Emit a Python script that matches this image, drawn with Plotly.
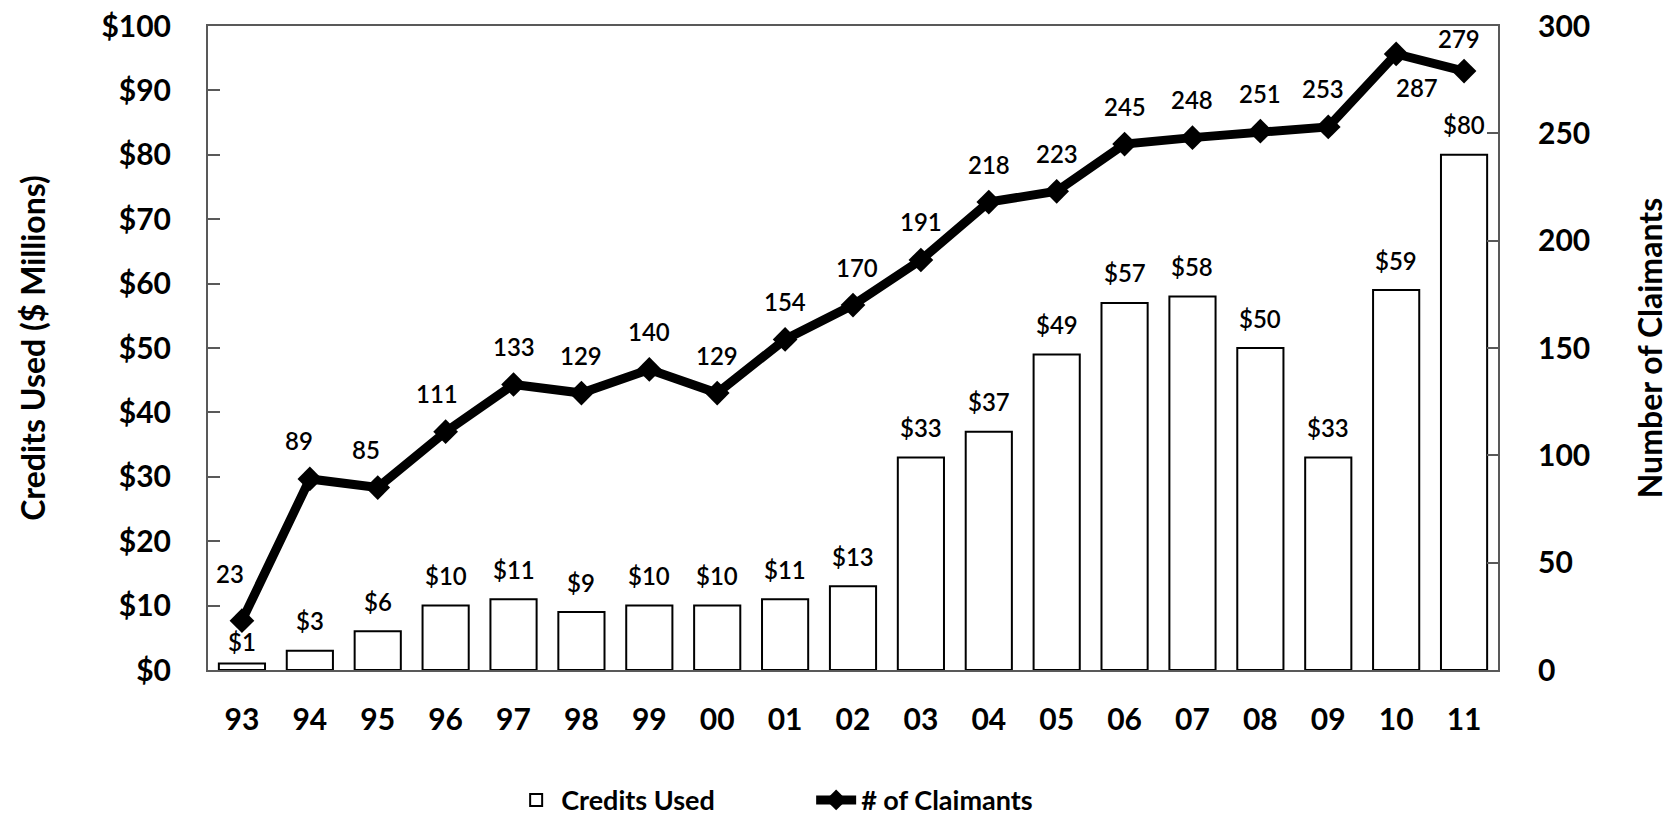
import plotly.graph_objects as go

# Fiscal years (two-digit) on the category axis
years = ["93", "94", "95", "96", "97", "98", "99", "00", "01", "02",
         "03", "04", "05", "06", "07", "08", "09", "10", "11"]

# Credits used, $ millions
credits_used = [1, 3, 6, 10, 11, 9, 10, 10, 11, 13,
                33, 37, 49, 57, 58, 50, 33, 59, 80]

# Number of claimants
claimants = [23, 89, 85, 111, 133, 129, 140, 129, 154, 170,
             191, 218, 223, 245, 248, 251, 253, 287, 279]

left_ticks = [0, 10, 20, 30, 40, 50, 60, 70, 80, 90, 100]
right_ticks = [0, 50, 100, 150, 200, 250, 300]

FONT = "Lato"
AXIS_GREY = "#595959"

# label offsets (dx, dy in px) for the claimant labels that sit off-centre
line_label_nudge = {"93": (-12, 47), "94": (-11, 38), "95": (-12, 38),
                    "96": (-9, 38), "02": (4, 38), "09": (-5, 38),
                    "10": (21, -34), "11": (-5, 33)}
bar_label_nudge = {"93": 22}

fig = go.Figure()

fig.add_trace(go.Bar(
    x=years, y=credits_used, name="Credits Used",
    marker=dict(color="white", line=dict(color="black", width=2)),
    yaxis="y",
))

fig.add_trace(go.Scatter(
    x=years, y=claimants, name="# of Claimants", mode="lines+markers",
    line=dict(color="black", width=9),
    marker=dict(symbol="diamond", size=19, color="black"),
    yaxis="y2",
))

# value labels; x given as category index so the category axis places them
label_font = dict(family=FONT, size=24, color="black", weight=600)
annotations = []
for i, (yr, v) in enumerate(zip(years, credits_used)):
    annotations.append(dict(
        x=i, y=v, xref="x", yref="y", text=f"${v}", showarrow=False,
        yshift=bar_label_nudge.get(yr, 30), yanchor="middle", font=label_font,
    ))
for i, (yr, v) in enumerate(zip(years, claimants)):
    dx, dy = line_label_nudge.get(yr, (0, 38))
    annotations.append(dict(
        x=i, y=v, xref="x", yref="y2", text=str(v), showarrow=False,
        xshift=dx, yshift=dy, yanchor="middle", font=label_font,
    ))

tick_font = dict(family=FONT, size=30, color="black", weight="bold")
title_font = dict(family=FONT, size=32, color="black", weight="bold")

fig.update_layout(
    width=1678, height=815,
    margin=dict(l=208, r=180, t=26, b=145),
    paper_bgcolor="white", plot_bgcolor="white",
    font=dict(family=FONT, color="black"),
    bargap=0.32,
    showlegend=True,
    legend=dict(
        orientation="h", x=0.235, xanchor="left",
        yref="container", y=0.018, yanchor="middle",
        font=dict(family=FONT, size=27, color="black", weight="bold"),
        entrywidth=245, itemwidth=40, bgcolor="rgba(0,0,0,0)",
    ),
    xaxis=dict(
        type="category", range=[-0.5, len(years) - 0.5], automargin=False,
        showline=True, linecolor=AXIS_GREY, linewidth=2,
        mirror=True, ticks="", showgrid=False, ticklabelstandoff=22,
        tickangle=0, tickfont=tick_font,
    ),
    yaxis=dict(
        range=[0, 100], tickvals=left_ticks, automargin=False,
        ticktext=[f"${t}" for t in left_ticks],
        showline=True, linecolor=AXIS_GREY, linewidth=2, mirror=False,
        ticks="inside", ticklen=12, tickwidth=1.5, tickcolor=AXIS_GREY,
        showgrid=False, zeroline=False, ticklabelstandoff=29,
        tickfont=tick_font,
        title=dict(text="Credits Used ($ Millions)", standoff=46, font=title_font),
    ),
    yaxis2=dict(
        range=[0, 300], tickvals=right_ticks, overlaying="y", side="right",
        automargin=False,
        showline=True, linecolor=AXIS_GREY, linewidth=2,
        ticks="inside", ticklen=11, tickwidth=1.5, tickcolor=AXIS_GREY,
        showgrid=False, zeroline=False, ticklabelstandoff=32,
        tickfont=tick_font,
        title=dict(text="Number of Claimants", standoff=50, font=title_font),
    ),
    annotations=annotations,
)

fig.write_html("out.html")
